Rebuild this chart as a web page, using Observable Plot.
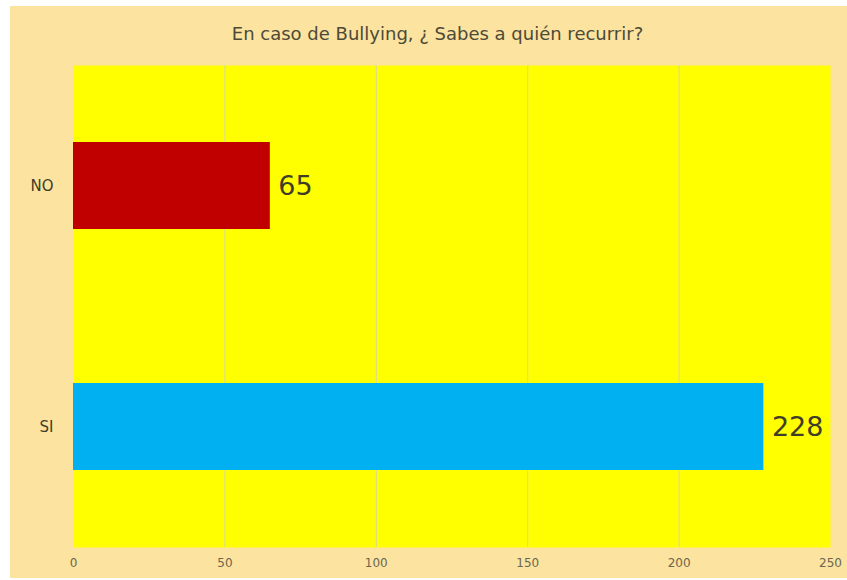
<!DOCTYPE html>
<html>
<head>
<meta charset="utf-8">
<script src="https://cdn.jsdelivr.net/npm/d3@7"></script>
<script src="https://cdn.jsdelivr.net/npm/@observablehq/plot@0.6"></script>
<style>
  html, body { margin: 0; padding: 0; background: #ffffff; }
  #wrap { position: absolute; left: 10px; top: 6px; width: 837px; height: 572px; background: #FCE39F; }
  #title { box-sizing: border-box; height: 44px; padding-top: 18px; padding-left: 18px; text-align: center;
           font-family: "DejaVu Sans", sans-serif; font-size: 18px; line-height: 20px; color: #4d4a38; }
  #chart svg { display: block; }
</style>
</head>
<body>
<div id="wrap">
  <div id="title">En caso de Bullying, ¿ Sabes a quién recurrir?</div>
  <div id="chart"></div>
</div>
<script>
const categories = ["NO", "SI"];
const values = [65, 228];
const barColors = ["#C00000", "#00B0F0"];
const xTicks = [0, 50, 100, 150, 200, 250];

const data = categories.map((c, i) => ({cat: c, value: values[i], color: barColors[i]}));

const chart = Plot.plot({
  width: 837,
  height: 528,
  marginTop: 15,
  marginBottom: 31,
  marginLeft: 63,
  marginRight: 17,
  style: {background: "transparent", fontFamily: "DejaVu Sans, sans-serif", color: "#5a5748", overflow: "visible"},
  x: {domain: [0, 250], label: null},
  y: {domain: categories, paddingInner: 0.64, paddingOuter: 0.32, label: null},
  marks: [
    Plot.frame({fill: "#FFFF00", stroke: null}),
    Plot.gridX(xTicks.slice(1, -1), {stroke: "#d8d7a0", strokeOpacity: 1, strokeWidth: 1}),
    Plot.barX(data, {x: "value", y: "cat", fill: "color"}),
    Plot.text(data, {x: "value", y: "cat", text: d => String(d.value), textAnchor: "start", dx: 8,
                     fontSize: 27, fill: "#3f3d28"}),
    Plot.axisX({ticks: xTicks, tickSize: 0, tickPadding: 11, fontSize: 12, fill: "#6a6650"}),
    Plot.axisY({tickSize: 0, tickPadding: 20, fontSize: 15, fill: "#3f3d28"})
  ]
});
document.getElementById("chart").appendChild(chart);
</script>
</body>
</html>
